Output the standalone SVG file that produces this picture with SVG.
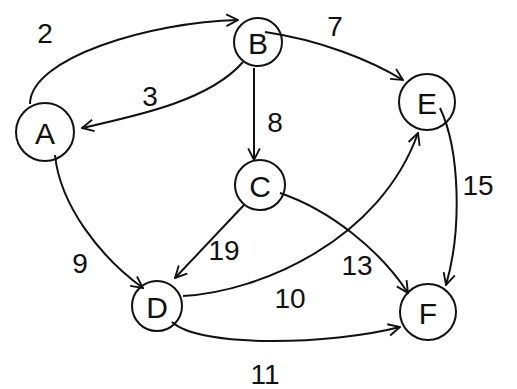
<svg xmlns="http://www.w3.org/2000/svg" width="517" height="389" viewBox="0 0 517 389">
<defs>
<marker id="arr" viewBox="0 0 12 12" refX="11" refY="6" markerWidth="14" markerHeight="14" markerUnits="userSpaceOnUse" orient="auto">
<path d="M1,1 L11,6 L1,11" fill="none" stroke="#111" stroke-width="1.6"/>
</marker>
<style>
.n circle{fill:none;stroke:#111;stroke-width:2}
.n text{font-family:"Liberation Sans",Arial,sans-serif;font-size:30px;fill:#111;text-anchor:middle;dominant-baseline:central}
.e path{fill:none;stroke:#111;stroke-width:2;marker-end:url(#arr)}
.w{font-family:"Liberation Sans",Arial,sans-serif;font-size:28px;fill:#111;text-anchor:middle;dominant-baseline:central}
</style>
</defs>
<rect width="517" height="389" fill="#fff"/>
<g id="edges" class="e">
<path d="M30,104 C30,58 150,22 238,20"/>
<path d="M243,62 C210,100 140,115 82,128"/>
<path d="M254,68 L254,160"/>
<path d="M265,32 C320,40 370,60 403,80"/>
<path d="M55,155 C60,205 100,257 143,288"/>
<path d="M244,205 L175,278"/>
<path d="M183,296 C260,292 380,240 418,133"/>
<path d="M280,193 C330,210 380,250 408,293"/>
<path d="M440,108 C460,150 462,230 446,285"/>
<path d="M172,322 C200,348 330,345 400,327"/>
</g>
<g id="labels">
<text class="w" x="45" y="33">2</text>
<text class="w" x="150" y="96">3</text>
<text class="w" x="335" y="26">7</text>
<text class="w" x="275" y="122">8</text>
<text class="w" x="478" y="185">15</text>
<text class="w" x="80" y="263">9</text>
<text class="w" x="224" y="250">19</text>
<text class="w" x="357" y="265">13</text>
<text class="w" x="290" y="298">10</text>
<text class="w" x="265" y="374">11</text>
</g>
<g id="A" class="n"><circle cx="45" cy="132" r="29"/><text x="45" y="133">A</text></g>
<g id="B" class="n"><circle cx="258" cy="42" r="24"/><text x="258" y="43">B</text></g>
<g id="E" class="n"><circle cx="427" cy="102" r="28"/><text x="427" y="103">E</text></g>
<g id="C" class="n"><circle cx="260" cy="185" r="25"/><text x="260" y="186">C</text></g>
<g id="D" class="n"><circle cx="157" cy="306" r="25"/><text x="157" y="307">D</text></g>
<g id="F" class="n"><circle cx="428" cy="312" r="28"/><text x="428" y="313">F</text></g>
</svg>
